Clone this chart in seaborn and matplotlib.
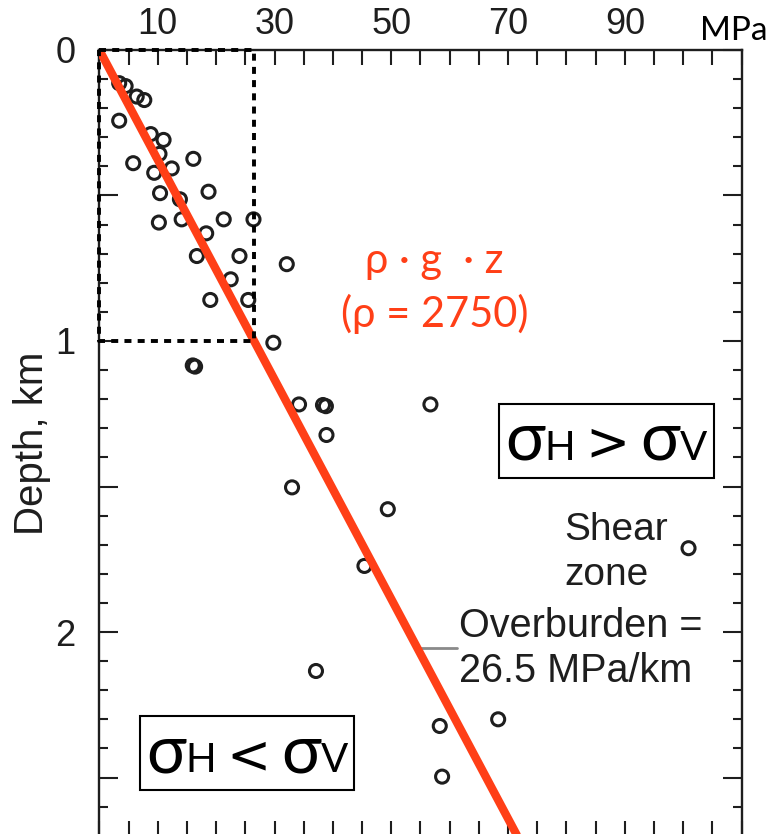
import numpy as np
import pandas as pd
import matplotlib
matplotlib.use("Agg")
import matplotlib.pyplot as plt
import seaborn as sns
from matplotlib.offsetbox import TextArea, HPacker, AnnotationBbox
from matplotlib.ticker import FixedLocator, MultipleLocator

# ---------------- data ----------------
stress_mpa = [3.4, 4.5, 6.4, 7.7, 3.4, 8.8, 11.0, 10.3, 16.1, 5.8,
              12.4, 9.4, 18.7, 10.4, 13.8, 21.3, 26.4, 14.1, 10.2, 18.3,
              16.7, 24.0, 22.5, 19.0, 25.5, 29.8, 16.0, 16.4, 32.1, 34.2,
              38.3, 38.8, 56.7, 38.9, 33.0, 49.4, 45.4, 100.9, 37.1, 58.3,
              68.3, 58.7]
depth_km = [0.114, 0.124, 0.160, 0.172, 0.243, 0.289, 0.309, 0.357, 0.374, 0.389,
            0.407, 0.422, 0.487, 0.492, 0.513, 0.582, 0.582, 0.582, 0.593, 0.630,
            0.708, 0.708, 0.788, 0.859, 0.859, 1.006, 1.084, 1.088, 0.736, 1.218,
            1.220, 1.224, 1.218, 1.323, 1.503, 1.578, 1.773, 1.712, 2.134, 2.323,
            2.300, 2.497]

overburden_gradient = 26.5          # MPa/km
line_depth_km = [0.0, 2.7]
box_stress = [0.0, 26.5, 26.5, 0.0, 0.0]
box_depth = [0.0, 0.0, 1.0, 1.0, 0.0]

x_tick_vals = [10, 30, 50, 70, 90]
x_tick_labels = ["10", "30", "50", "70", "90"]
y_tick_vals = [0, 0.5, 1, 1.5, 2, 2.5]
y_tick_labels = ["0", "", "1", "", "2", ""]

RED = "#FF3F17"
INK = "#1e1e1e"

# ---------------- style ----------------
sns.set_style("ticks")
plt.rcParams["font.family"] = ["Liberation Sans", "DejaVu Sans"]
GREEK = ["Lato", "Noto Sans", "DejaVu Sans"]

fig = plt.figure(figsize=(7.7, 8.34), dpi=100)
ax = fig.add_axes([0.129, -0.00204, 0.8342, 0.94209])

df = pd.DataFrame({"stress": stress_mpa, "depth": depth_km})
sns.scatterplot(data=df, x="stress", y="depth", ax=ax, marker="o", s=88,
                facecolors="none", edgecolor=INK, linewidth=2.2, zorder=3,
                legend=False)

line_stress = [overburden_gradient * d for d in line_depth_km]
sns.lineplot(x=line_stress, y=line_depth_km, ax=ax, color=RED, linewidth=6,
             sort=False, estimator=None, zorder=4)

sns.lineplot(x=box_stress, y=box_depth, ax=ax, color="black", linewidth=2.8,
             linestyle=(0, (1.8, 1.6)), sort=False, estimator=None, zorder=5,
             clip_on=False)

ax.set_xlim(0, 110)
ax.set_ylim(2.7, 0)

# ticks
ax.xaxis.set_major_locator(FixedLocator(x_tick_vals))
ax.set_xticklabels(x_tick_labels)
ax.xaxis.set_minor_locator(MultipleLocator(5))
ax.yaxis.set_major_locator(FixedLocator(y_tick_vals))
ax.set_yticklabels(y_tick_labels)
ax.yaxis.set_minor_locator(MultipleLocator(0.1))

ax.tick_params(axis="x", which="both", direction="in", top=True, bottom=True,
               labeltop=True, labelbottom=False, length=10.8, width=1.5,
               pad=6, labelsize=26, color=INK, labelcolor=INK)
ax.tick_params(axis="y", which="major", direction="in", left=True, right=True,
               length=13.7, width=1.5, pad=17, labelsize=26, color=INK,
               labelcolor=INK)
ax.tick_params(axis="y", which="minor", direction="in", left=True, right=True,
               length=6.5, width=1.5, color=INK)
for s in ax.spines.values():
    s.set_linewidth(1.7)
    s.set_color(INK)

ax.set_xlabel("")
ax.set_ylabel("Depth, km", fontsize=29, color=INK)
ax.yaxis.set_label_coords(-0.075, 0.50)

fig.text(700 / 770, 1 - 40 / 834, "MPa", family=GREEK, fontsize=24,
         color="black", ha="left", va="baseline")

# red annotation
ax.text(57.4, 0.766, "ρ · g  · z", ha="center", va="baseline", color=RED,
        fontsize=30, family=GREEK)
ax.text(57.4, 0.952, "(ρ = 2750)", ha="center", va="baseline", color=RED,
        fontsize=30, family=GREEK)

# shear zone / overburden labels
ax.text(79.6, 1.684, "Shear", ha="left", va="baseline", fontsize=28, color=INK)
ax.text(79.6, 1.838, "zone", ha="left", va="baseline", fontsize=28, color=INK)
ax.text(61.6, 2.017, "Overburden =", ha="left", va="baseline", fontsize=28.5, color=INK)
ax.text(61.6, 2.172, "26.5 MPa/km", ha="left", va="baseline", fontsize=28.5, color=INK)
ax.plot([55.0, 61.3], [2.055, 2.055], color="#8a8a8a", lw=2, zorder=2)


def sigma_box(rel, x, y):
    big = dict(fontsize=48, family=GREEK, color="black")
    small = dict(fontsize=29, family=GREEK, color="black")
    relp = dict(fontsize=38, family=["DejaVu Sans"], color="black")
    parts = [TextArea("σ", textprops=big), TextArea("H ", textprops=small),
             TextArea(rel, textprops=relp), TextArea(" ", textprops=small),
             TextArea("σ", textprops=big), TextArea("V", textprops=small)]
    pack = HPacker(children=parts, align="baseline", pad=0, sep=0)
    ab = AnnotationBbox(pack, (x, y), xycoords="data", frameon=True,
                        box_alignment=(0.5, 0.5), pad=0.45,
                        bboxprops=dict(edgecolor="black", linewidth=1.5,
                                       facecolor="white", boxstyle="square,pad=0.45"),
                        zorder=6)
    ax.add_artist(ab)


sigma_box(">", 86.8, 1.343)
sigma_box("<", 25.3, 2.416)

fig.savefig("out.png", dpi=100)
